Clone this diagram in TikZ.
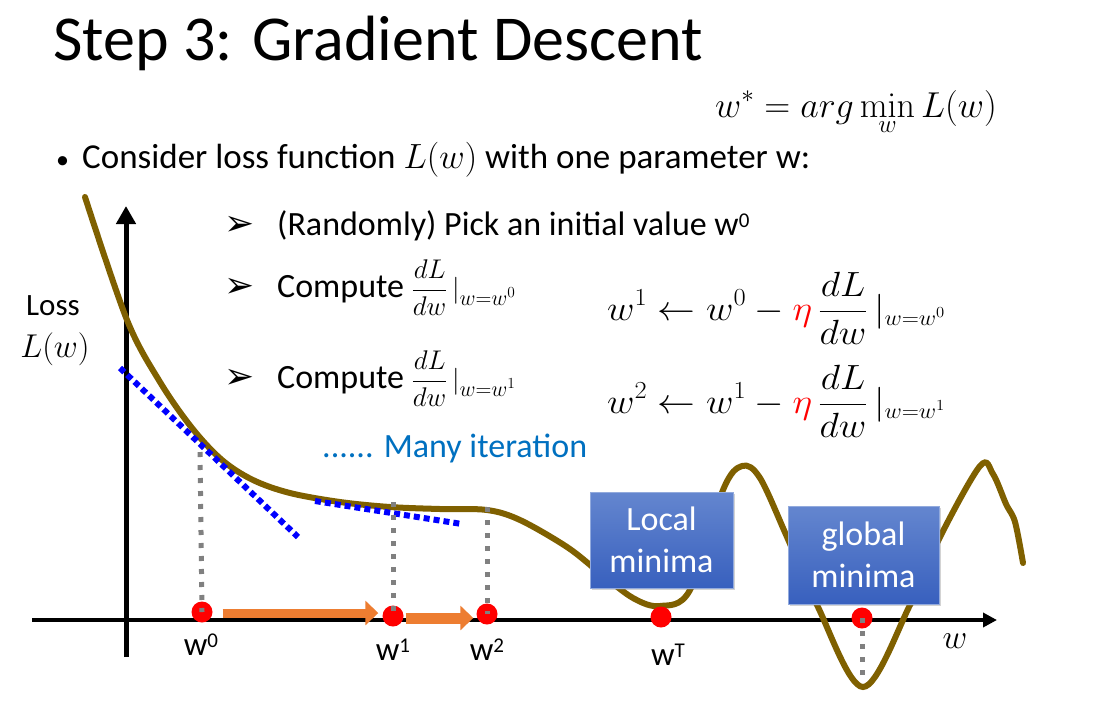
\RequirePackage{fix-cm}
\documentclass[tikz,border=0pt]{standalone}
\usepackage[no-math]{fontspec}
\setmainfont{Carlito}
\newfontfamily\djv{DejaVu Sans}
\usetikzlibrary{arrows.meta,shadows}
\definecolor{curvec}{RGB}{127,96,0}
\definecolor{orangec}{RGB}{237,125,49}
\definecolor{bluetext}{RGB}{0,112,192}
\definecolor{boxtop}{RGB}{100,134,207}
\definecolor{boxbot}{RGB}{56,96,190}
\definecolor{dotgrey}{RGB}{128,128,128}
\definecolor{tanblue}{RGB}{0,0,255}
\newcommand{\sps}[1]{\raisebox{8pt}{\fontsize{21}{24}\selectfont #1}}
\newcommand{\atw}[1]{\,|_{\mbox{\fontsize{22}{24}\selectfont$w{=}w^{#1}$}}}
\begin{document}
\begin{tikzpicture}[x=1pt,y=-1pt,
  txt/.style={inner sep=0pt,anchor=base west},
  axisline/.style={line width=#1,black},
  greydot/.style={dotgrey,line width=5pt,dash pattern=on 5pt off 8pt},
  bluedot/.style={tanblue,line width=6pt,dash pattern=on 6pt off 4pt},
  reddot/.style={circle,fill=red,inner sep=0pt,minimum size=21pt},
  steparrow/.style={orangec,line width=#1,-{Triangle[length=13pt,width=24pt]}},
  minbox/.style={rectangle,top color=boxtop,bottom color=boxbot,draw=boxtop!70!white,line width=0.8pt,
     text=white,align=center,inner sep=0pt,font=\fontsize{34}{42}\selectfont,
     drop shadow={shadow xshift=2pt,shadow yshift=-2pt,opacity=0.35}},
  wlab/.style={inner sep=0pt,anchor=base,font=\fontsize{33}{36}\selectfont},
  sub/.style={txt,font=\fontsize{34}{40}\selectfont},
  arr/.style={inner sep=0pt,anchor=base west,font=\djv\fontsize{36}{40}\selectfont}
]
\useasboundingbox (0,0) rectangle (1115,726);

% texts
\node[txt] (title) at (53,60) {\fontsize{64}{72}\selectfont Step 3: Gradient Descent};
\node[txt] (argmin) at (715,117) {\fontsize{36}{40}\selectfont $\displaystyle w^{*}=arg\min_{\raisebox{-9pt}{$\scriptstyle w$}} L(w)$};
\node[txt] (bul) at (56,168) {\fontsize{26}{30}\selectfont •};
\node[txt] (consider) at (82,168) {\fontsize{35}{40}\selectfont Consider loss function $L(w)$ with one parameter w:};

\node[arr] (a1) at (224,235) {➢};
\node[sub] (s1) at (277,235) {(Randomly) Pick an initial value w\sps{0}};
\node[arr] (a2) at (224,297) {➢};
\node[sub] (s2) at (277,297) {Compute {\fontsize{27}{30}\selectfont$\displaystyle\frac{dL}{dw}\atw{0}$}};
\node[arr] (a3) at (224,388) {➢};
\node[sub] (s3) at (277,388) {Compute {\fontsize{27}{30}\selectfont$\displaystyle\frac{dL}{dw}\atw{1}$}};
\node[txt,text=bluetext] (many) at (322,457) {\fontsize{34}{40}\selectfont ...... Many iteration};

\node[txt] (eq1) at (607,320) {\scalebox{1.08}[1]{\fontsize{35}{40}\selectfont $\displaystyle w^1 \leftarrow w^0 - {\color{red}\eta}\,\frac{dL}{dw}\atw{0}$}};
\node[txt] (eq2) at (607,413) {\scalebox{1.08}[1]{\fontsize{35}{40}\selectfont $\displaystyle w^2 \leftarrow w^1 - {\color{red}\eta}\,\frac{dL}{dw}\atw{1}$}};

\node[inner sep=0pt,anchor=base] (loss) at (53,315) {\fontsize{31}{36}\selectfont Loss};
\node[inner sep=0pt,anchor=base] (lw) at (55,357) {\fontsize{33}{36}\selectfont $L(w)$};

% axes
\coordinate (xs) at (32,620);
\coordinate (xe) at (997,620);
\coordinate (ys) at (126,657);
\coordinate (ye) at (126,206);
\draw[axisline=4.5pt,-{Triangle[length=14pt,width=14pt]}] (xs) -- (xe);
\draw[axisline=5pt,-{Triangle[length=18pt,width=19pt]}] (ys) -- (ye);
\node[inner sep=0pt,anchor=base] (wax) at (955,648) {\fontsize{34}{40}\selectfont $w$};

% curve
\draw[curvec,line width=6pt,line cap=round] plot[smooth,tension=0.55] coordinates {
 (85,197) (127,320) (160,382) (192,428) (222,460) (253,480) (290,493) (340,502)
 (390,507) (440,509) (487,510)
 (520,520) (567,547) (600,573) (633,598) (660,606) (690,590) (723,490) (742,466)
 (760,478) (787,537) (817,605) (863,687) (910,605) (940,537) (980,466) (993,474)
 (1006,504) (1015,522) (1023,563)};

% tangents
\coordinate (t1a) at (120,368);
\coordinate (t1b) at (298,537);
\coordinate (t2a) at (315,501);
\coordinate (t2b) at (462,524);
\draw[bluedot] (t1a) -- (t1b);
\draw[bluedot] (t2a) -- (t2b);

% dots
\node[reddot] (d0) at (202,612) {};
\node[reddot] (d1) at (393,616) {};
\node[reddot] (d2) at (487,614) {};
\node[reddot] (dT) at (661,617) {};
\node[reddot] (dG) at (862,618) {};

% grey dotted drops
\coordinate (g0) at (200,452);
\coordinate (g1) at (393,502);
\coordinate (g2) at (487,507);
\coordinate (gG) at (862,680);
\draw[greydot] (g0) -- (d0.center);
\draw[greydot] (g1) -- (d1.center);
\draw[greydot] (g2) -- (d2.center);
\draw[greydot] (dG.center) -- (gG);

% step arrows
\draw[steparrow=9pt] ([xshift=10pt,yshift=-1pt]d0.east) -- ([xshift=-4pt,yshift=3pt]d1.west);
\draw[steparrow=11pt] ([xshift=2pt,yshift=-2pt]d1.east) -- ([xshift=-3pt,yshift=-4pt]d2.west);

% labels
\node[wlab] (l0) at (201,655) {w\sps{0}};
\node[wlab] (l1) at (393,660) {w\sps{1}};
\node[wlab] (l2) at (487,660) {w\sps{2}};
\node[wlab] (lT) at (668,665) {w\sps{T}};

% boxes
\node[minbox,minimum width=143pt,minimum height=96pt] (local) at (661.5,540) {Local\\minima};
\node[minbox,minimum width=151pt,minimum height=98pt] (global) at (863.5,555) {global\\minima};
\end{tikzpicture}
\end{document}
